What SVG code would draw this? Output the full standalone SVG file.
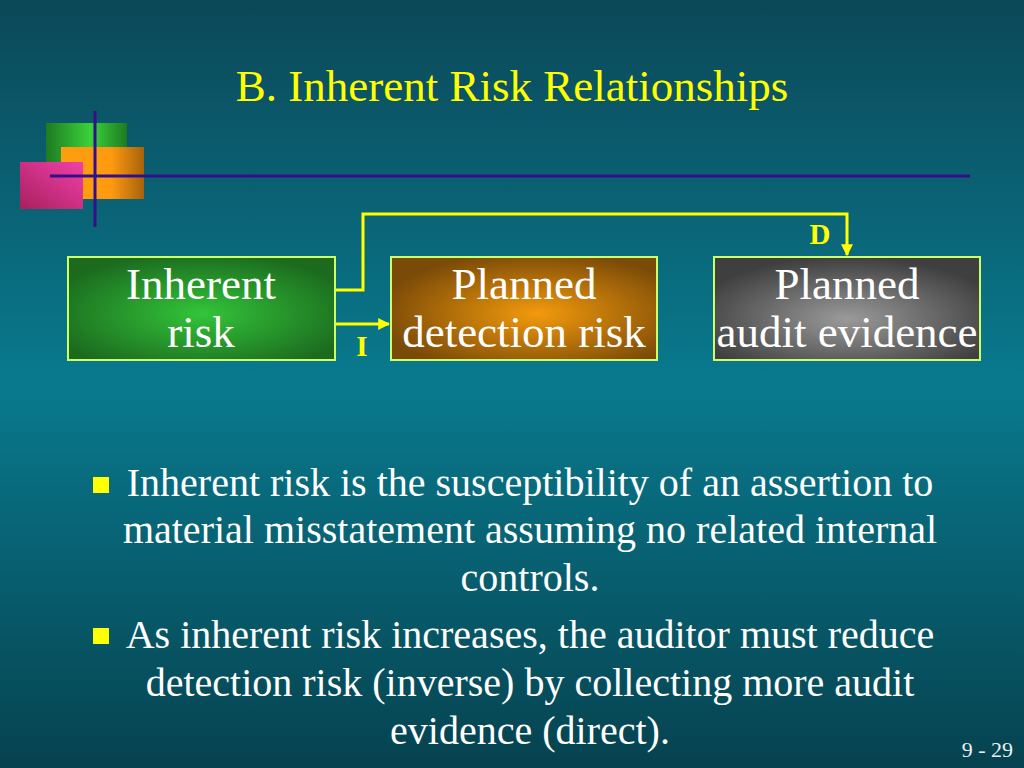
<svg xmlns="http://www.w3.org/2000/svg" width="1024" height="768" viewBox="0 0 1024 768">
<defs>
<linearGradient id="bg" x1="0" y1="0" x2="0" y2="1">
<stop offset="0" stop-color="#0b4858"/>
<stop offset="0.5" stop-color="#097a8e"/>
<stop offset="1" stop-color="#06424f"/>
</linearGradient>
<radialGradient id="gGreen" cx="0.5" cy="0.55" r="0.6">
<stop offset="0" stop-color="#33c43a"/>
<stop offset="1" stop-color="#1b6a1e"/>
</radialGradient>
<radialGradient id="gOrange" cx="0.55" cy="0.55" r="0.6">
<stop offset="0" stop-color="#f39a0c"/>
<stop offset="1" stop-color="#7a4a08"/>
</radialGradient>
<radialGradient id="gGray" cx="0.5" cy="0.6" r="0.6">
<stop offset="0" stop-color="#9a9a9a"/>
<stop offset="1" stop-color="#3f3f3f"/>
</radialGradient>
<linearGradient id="dGreen" x1="0" y1="0" x2="1" y2="0">
<stop offset="0" stop-color="#1e7a22"/>
<stop offset="0.55" stop-color="#3ad23a"/>
<stop offset="1" stop-color="#1e7a22"/>
</linearGradient>
<linearGradient id="dOrange" x1="0" y1="0" x2="1" y2="0">
<stop offset="0" stop-color="#ff9e10"/>
<stop offset="0.6" stop-color="#ff9a10"/>
<stop offset="1" stop-color="#a8620a"/>
</linearGradient>
<linearGradient id="dPink" x1="1" y1="0" x2="0" y2="1">
<stop offset="0" stop-color="#f040a8"/>
<stop offset="1" stop-color="#a8205e"/>
</linearGradient>
<marker id="arr" viewBox="0 0 10 10" refX="9" refY="5" markerWidth="4" markerHeight="4" orient="auto" markerUnits="strokeWidth">
<path d="M0,0 L10,5 L0,10 z" fill="#ffff00"/>
</marker>
<style>
text{font-family:'Liberation Serif','Times New Roman',serif}
.box{stroke:#ccff66;stroke-width:2}
.bt{font-size:45px;fill:#ffffff;text-anchor:middle}
.body{font-size:40px;fill:#ffffff;text-anchor:middle}
.lab{font-size:29px;font-weight:bold;fill:#ffff00;text-anchor:middle}
.conn{fill:none;stroke:#ffff00;stroke-width:3}
.deco{stroke:#33108a;stroke-width:3}
.bul{fill:#ffff00}
</style>
</defs>
<rect width="1024" height="768" fill="url(#bg)"/>
<g id="decoration">
<rect x="46" y="123" width="81" height="40" fill="url(#dGreen)"/>
<rect x="61" y="147" width="83" height="52" fill="url(#dOrange)"/>
<rect x="20" y="162" width="63" height="47" fill="url(#dPink)"/>
<line class="deco" x1="95" y1="111" x2="95" y2="227"/>
<line class="deco" x1="50" y1="176" x2="970" y2="176"/>
</g>
<text id="title" x="512" y="101" font-size="45" fill="#ffff00" text-anchor="middle">B. Inherent Risk Relationships</text>
<g id="connectors">
<polyline class="conn" points="335,290 363,290 363,214 847,214 847,255" marker-end="url(#arr)"/>
<line class="conn" x1="335" y1="324" x2="389" y2="324" marker-end="url(#arr)"/>
<text class="lab" x="820" y="244">D</text>
<text class="lab" x="362" y="356">I</text>
</g>
<g id="node-inherent">
<rect class="box" x="68" y="257" width="267" height="103" fill="url(#gGreen)"/>
<text class="bt" x="201" y="299">Inherent</text>
<text class="bt" x="201" y="347">risk</text>
</g>
<g id="node-detection">
<rect class="box" x="391" y="257" width="266" height="103" fill="url(#gOrange)"/>
<text class="bt" x="524" y="299">Planned</text>
<text class="bt" x="524" y="347">detection risk</text>
</g>
<g id="node-evidence">
<rect class="box" x="714" y="257" width="266" height="103" fill="url(#gGray)"/>
<text class="bt" x="847" y="299">Planned</text>
<text class="bt" x="847" y="347">audit evidence</text>
</g>
<g id="bullets">
<rect class="bul" x="93" y="477" width="16" height="16"/>
<text class="body" x="530" y="496">Inherent risk is the susceptibility of an assertion to</text>
<text class="body" x="530" y="543">material misstatement assuming no related internal</text>
<text class="body" x="530" y="591">controls.</text>
<rect class="bul" x="93" y="628" width="16" height="16"/>
<text class="body" x="530" y="648">As inherent risk increases, the auditor must reduce</text>
<text class="body" x="530" y="696">detection risk (inverse) by collecting more audit</text>
<text class="body" x="530" y="744">evidence (direct).</text>
</g>
<text id="page" x="1013" y="757" font-size="22" fill="#e8f0f0" text-anchor="end">9 - 29</text>
</svg>
